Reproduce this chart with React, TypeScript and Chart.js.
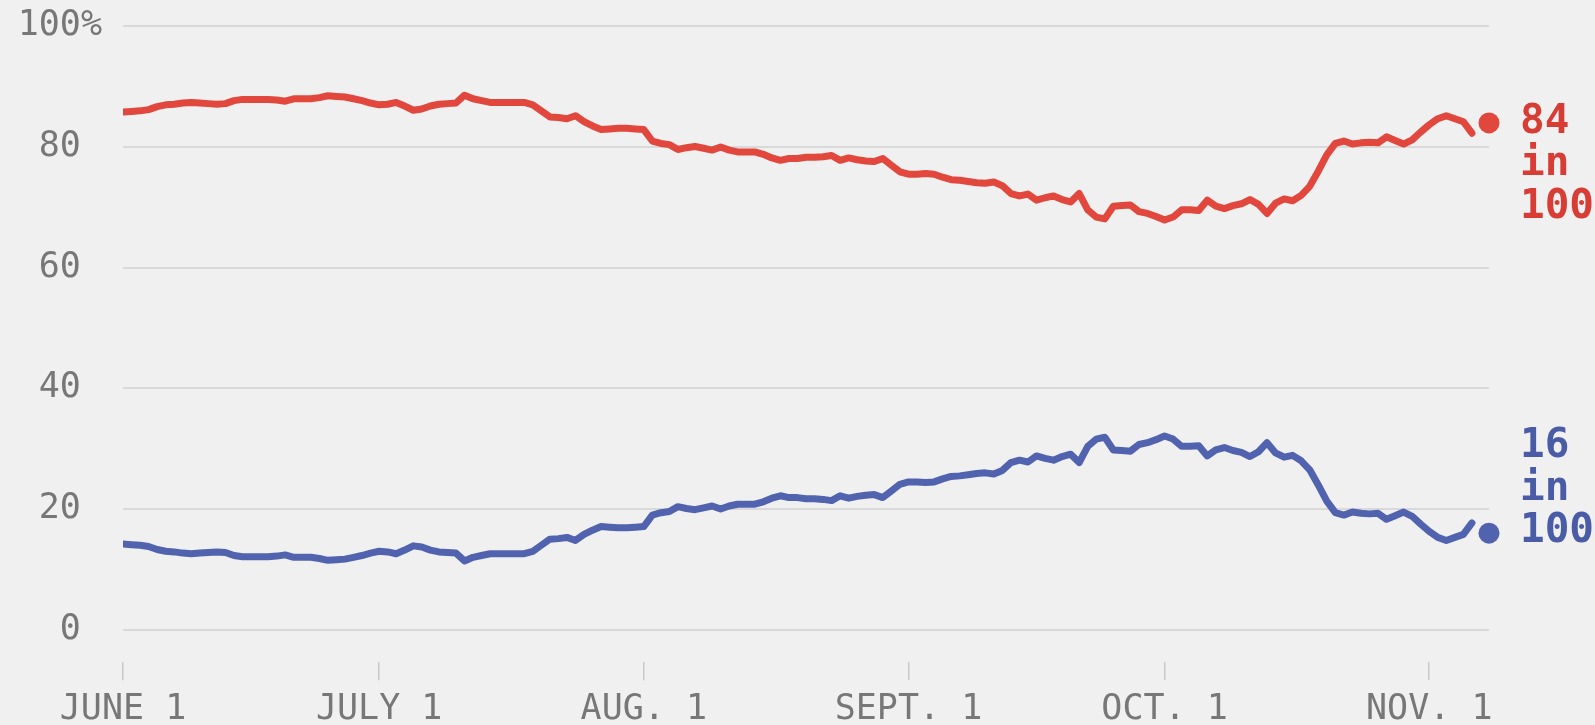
import { useEffect, useRef } from "react";
import { Chart, registerables } from "chart.js";

Chart.register(...registerables);

// Days are counted from June 1 (day 0); election day is Nov. 8.
const tickDays = [0, 30, 61, 92, 122, 153];
const tickLabels = ["JUNE 1", "JULY 1", "AUG. 1", "SEPT. 1", "OCT. 1", "NOV. 1"];
const yTicks = [0, 20, 40, 60, 80, 100];
const electionDay = 160;

// Daily chance of winning, in percent (June 1 – Nov. 6)
const redSeries = [
  85.8, 85.9, 86.0, 86.2, 86.7, 87.0, 87.1, 87.3, 87.4, 87.3,
  87.2, 87.1, 87.2, 87.7, 87.9, 87.9, 87.9, 87.9, 87.8, 87.6,
  88.0, 88.0, 88.0, 88.2, 88.5, 88.4, 88.3, 88.0, 87.7, 87.3,
  87.0, 87.1, 87.4, 86.8, 86.1, 86.3, 86.8, 87.1, 87.2, 87.3,
  88.6, 88.0, 87.7, 87.4, 87.4, 87.4, 87.4, 87.4, 87.0, 86.0,
  85.0, 84.9, 84.7, 85.2, 84.2, 83.5, 82.9, 83.0, 83.1, 83.1,
  83.0, 82.9, 81.0, 80.6, 80.4, 79.6, 79.9, 80.1, 79.8, 79.5,
  80.0, 79.5, 79.2, 79.2, 79.2, 78.8, 78.2, 77.8, 78.1, 78.1,
  78.3, 78.3, 78.4, 78.6, 77.8, 78.2, 77.9, 77.7, 77.6, 78.1,
  77.0, 75.9, 75.5, 75.5, 75.6, 75.5, 75.0, 74.6, 74.5, 74.3,
  74.1, 74.0, 74.2, 73.6, 72.3, 71.9, 72.2, 71.2, 71.6, 71.9,
  71.3, 70.9, 72.3, 69.6, 68.4, 68.1, 70.2, 70.3, 70.4, 69.3,
  69.0, 68.5, 67.9, 68.4, 69.6, 69.6, 69.5, 71.2, 70.2, 69.8,
  70.3, 70.6, 71.3, 70.5, 69.0, 70.7, 71.4, 71.1, 72.0, 73.5,
  76.0, 78.7, 80.6, 81.0, 80.5, 80.7, 80.8, 80.7, 81.7, 81.1,
  80.5, 81.2, 82.5, 83.7, 84.7, 85.2, 84.7, 84.2, 82.3,
];

const blueSeries = [
  14.2, 14.1, 14.0, 13.8, 13.3, 13.0, 12.9, 12.7, 12.6, 12.7,
  12.8, 12.9, 12.8, 12.3, 12.1, 12.1, 12.1, 12.1, 12.2, 12.4,
  12.0, 12.0, 12.0, 11.8, 11.5, 11.6, 11.7, 12.0, 12.3, 12.7,
  13.0, 12.9, 12.6, 13.2, 13.9, 13.7, 13.2, 12.9, 12.8, 12.7,
  11.4, 12.0, 12.3, 12.6, 12.6, 12.6, 12.6, 12.6, 13.0, 14.0,
  15.0, 15.1, 15.3, 14.8, 15.8, 16.5, 17.1, 17.0, 16.9, 16.9,
  17.0, 17.1, 19.0, 19.4, 19.6, 20.4, 20.1, 19.9, 20.2, 20.5,
  20.0, 20.5, 20.8, 20.8, 20.8, 21.2, 21.8, 22.2, 21.9, 21.9,
  21.7, 21.7, 21.6, 21.4, 22.2, 21.8, 22.1, 22.3, 22.4, 21.9,
  23.0, 24.1, 24.5, 24.5, 24.4, 24.5, 25.0, 25.4, 25.5, 25.7,
  25.9, 26.0, 25.8, 26.4, 27.7, 28.1, 27.8, 28.8, 28.4, 28.1,
  28.7, 29.1, 27.7, 30.4, 31.6, 31.9, 29.8, 29.7, 29.6, 30.7,
  31.0, 31.5, 32.1, 31.6, 30.4, 30.4, 30.5, 28.8, 29.8, 30.2,
  29.7, 29.4, 28.7, 29.5, 31.0, 29.3, 28.6, 28.9, 28.0, 26.5,
  24.0, 21.3, 19.4, 19.0, 19.5, 19.3, 19.2, 19.3, 18.3, 18.9,
  19.5, 18.8, 17.5, 16.3, 15.3, 14.8, 15.3, 15.8, 17.7,
];

const finalRed = 84;
const finalBlue = 16;

const RED = "#e2473d";
const BLUE = "#5163ae";
const RED_TEXT = "#d83d35";
const BLUE_TEXT = "#4b5ca7";
const AXIS_TEXT = "#777777";
const MONO = "'DejaVu Sans Mono', 'Liberation Mono', monospace";

// Writes "NN / in / 100" next to each election-day dot.
const endLabels = {
  id: "endLabels",
  afterDatasetsDraw(chart: any) {
    const { ctx } = chart;
    const x = chart.scales.x;
    const y = chart.scales.y;
    const px = x.getPixelForValue(electionDay) + 31;
    const lineGap = 42.5;
    ctx.save();
    ctx.font = `bold 41px ${MONO}`;
    ctx.textAlign = "left";
    ctx.textBaseline = "alphabetic";

    const ry = y.getPixelForValue(finalRed);
    ctx.fillStyle = RED_TEXT;
    [String(finalRed), "in", "100"].forEach((t, i) => {
      ctx.fillText(t, px, ry + 10 + i * lineGap);
    });

    const by = y.getPixelForValue(finalBlue);
    ctx.fillStyle = BLUE_TEXT;
    [String(finalBlue), "in", "100"].forEach((t, i) => {
      ctx.fillText(t, px, by + 9 - (2 - i) * lineGap);
    });
    ctx.restore();
  },
};

export default function App() {
  const canvasRef = useRef<HTMLCanvasElement | null>(null);

  useEffect(() => {
    const canvas = canvasRef.current;
    if (!canvas) return;

    const lineStyle = {
      borderWidth: 7,
      pointRadius: 0,
      pointHoverRadius: 0,
      fill: false,
      tension: 0,
      borderJoinStyle: "round" as const,
      borderCapStyle: "round" as const,
    };

    const chart = new Chart(canvas, {
      type: "line",
      data: {
        datasets: [
          {
            label: "red",
            data: redSeries.map((v, i) => ({ x: i, y: v })),
            borderColor: RED,
            ...lineStyle,
          },
          {
            label: "blue",
            data: blueSeries.map((v, i) => ({ x: i, y: v })),
            borderColor: BLUE,
            ...lineStyle,
          },
          {
            label: "red final",
            data: [{ x: electionDay, y: finalRed }],
            showLine: false,
            pointRadius: 10.5,
            pointBorderWidth: 0,
            pointBackgroundColor: RED,
            borderColor: RED,
            clip: false,
          },
          {
            label: "blue final",
            data: [{ x: electionDay, y: finalBlue }],
            showLine: false,
            pointRadius: 10.5,
            pointBorderWidth: 0,
            pointBackgroundColor: BLUE,
            borderColor: BLUE,
            clip: false,
          },
        ],
      },
      options: {
        responsive: false,
        animation: false,
        events: [],
        layout: { padding: { top: 26.4, right: 106, left: 0, bottom: 0 } },
        plugins: {
          legend: { display: false },
          tooltip: { enabled: false },
        },
        scales: {
          x: {
            type: "linear",
            min: 0,
            max: electionDay,
            afterBuildTicks: (s: any) => {
              s.ticks = tickDays.map((v) => ({ value: v }));
            },
            afterFit: (s: any) => {
              s.height = 725 - 662.3;
            },
            grid: {
              drawOnChartArea: false,
              drawTicks: true,
              tickLength: 18,
              color: "#c9c9c9",
              lineWidth: 1.5,
            },
            border: { display: false },
            ticks: {
              autoSkip: false,
              maxRotation: 0,
              padding: 9,
              color: AXIS_TEXT,
              font: { family: MONO, size: 35 },
              callback: (_v: any, i: number) => tickLabels[i] ?? "",
            },
          },
          y: {
            min: -5.4,
            max: 100,
            afterBuildTicks: (s: any) => {
              s.ticks = yTicks.map((v) => ({ value: v }));
            },
            afterFit: (s: any) => {
              s.width = 123;
            },
            // invisible tick marks keep the labels clear of the grid
            grid: {
              color: "#d9d9d9",
              lineWidth: 2,
              drawTicks: true,
              tickLength: 21,
              tickColor: "rgba(0,0,0,0)",
            },
            border: { display: false },
            ticks: {
              padding: 0,
              color: AXIS_TEXT,
              font: { family: MONO, size: 35 },
              callback: (v: any) => (v === 100 ? "100%" : `${v} `),
            },
          },
        },
      },
      plugins: [endLabels],
    });

    return () => chart.destroy();
  }, []);

  return (
    <div
      style={{
        position: "absolute",
        left: 0,
        top: 0,
        width: 1595,
        height: 725,
        background: "#f0f0f0",
      }}
    >
      <canvas ref={canvasRef} width={1595} height={725} style={{ display: "block" }} />
    </div>
  );
}
